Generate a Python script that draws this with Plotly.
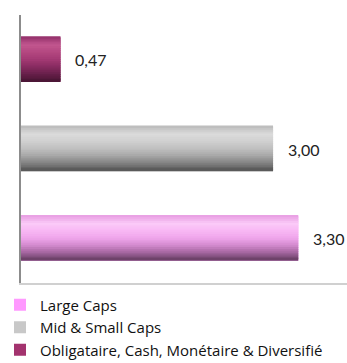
import plotly.graph_objects as go

categories = ["Large Caps", "Mid & Small Caps", "Obligataire, Cash, Monétaire & Diversifié"]
values = [3.30, 3.00, 0.47]
labels = ["3,30", "3,00", "0,47"]
legend_colors = ["#FF99FF", "#C8C8C8", "#A3336E"]
# gradient key colours (top -> bottom) for each bar
gradient_stops = [
    ["#E9A2E4", "#FBCBF8", "#F8B8F4", "#F0A6EC", "#D58CD0", "#A868A3", "#6E426A"],
    ["#BEBEBE", "#DCDCDC", "#D0D0D0", "#C0C0C0", "#A8A8A8", "#848484", "#5A5A5A"],
    ["#98346E", "#C2568F", "#B44880", "#A43A74", "#8A2C62", "#6A204C", "#4C1636"],
]

def hex2rgb(h):
    h = h.lstrip("#")
    return [int(h[i:i + 2], 16) for i in (0, 2, 4)]

def interp(stops, n):
    out = []
    rgb = [hex2rgb(s) for s in stops]
    for i in range(n):
        t = i / (n - 1) * (len(rgb) - 1)
        k = min(int(t), len(rgb) - 2)
        f = t - k
        c = [round(rgb[k][j] * (1 - f) + rgb[k + 1][j] * f) for j in range(3)]
        out.append("rgb(%d,%d,%d)" % tuple(c))
    return out

BAR_W = 0.5
N = 24
fig = go.Figure()

for cat, val, col in zip(categories, values, legend_colors):
    fig.add_trace(go.Bar(
        y=[cat], x=[val], orientation="h", name=cat,
        marker=dict(color=col, line=dict(width=0)),
        width=BAR_W, legendgroup=cat, hoverinfo="skip",
    ))

for cat, val, stops in zip(categories, values, gradient_stops):
    grad = interp(stops, N)
    sw = BAR_W / N
    for i, c in enumerate(grad):
        off = BAR_W / 2 - (i + 1) * sw
        fig.add_trace(go.Bar(
            y=[cat], x=[val], orientation="h", showlegend=False,
            marker=dict(color=c, line=dict(width=0)),
            width=sw * 1.6, offset=off - sw * 0.3 if 0 < i < N - 1 else off, legendgroup=cat,
            hoverinfo="skip",
        ))

for cat, val, lab in zip(categories, values, labels):
    fig.add_annotation(x=val, y=cat, text=lab, showarrow=False,
                       xanchor="left", yanchor="middle", xshift=13,
                       font=dict(size=16, color="#222222", family="Lato"))

fig.update_layout(
    width=347, height=363,
    margin=dict(l=21, r=0, t=15, b=80, autoexpand=False),
    paper_bgcolor="white", plot_bgcolor="white",
    barmode="overlay",
    showlegend=True,
    legend=dict(
        orientation="v", x=0, xref="container", y=0.205, yref="container",
        yanchor="top", xanchor="left", traceorder="normal", tracegroupgap=0,
        font=dict(size=15, color="#111111", family="Open Sans"),
        bgcolor="rgba(0,0,0,0)",
        itemclick=False,
    ),
    xaxis=dict(range=[0, 3.88], showgrid=False, zeroline=False, showticklabels=False,
               showline=True, linecolor="#D0D0D0", linewidth=2, ticks=""),
    yaxis=dict(showgrid=False, zeroline=False, showticklabels=False, ticks="",
               showline=True, linecolor="#8C8C8C", linewidth=2,
               categoryorder="array", categoryarray=categories),
    font=dict(family="Lato"),
)

fig.write_html("out.html")
